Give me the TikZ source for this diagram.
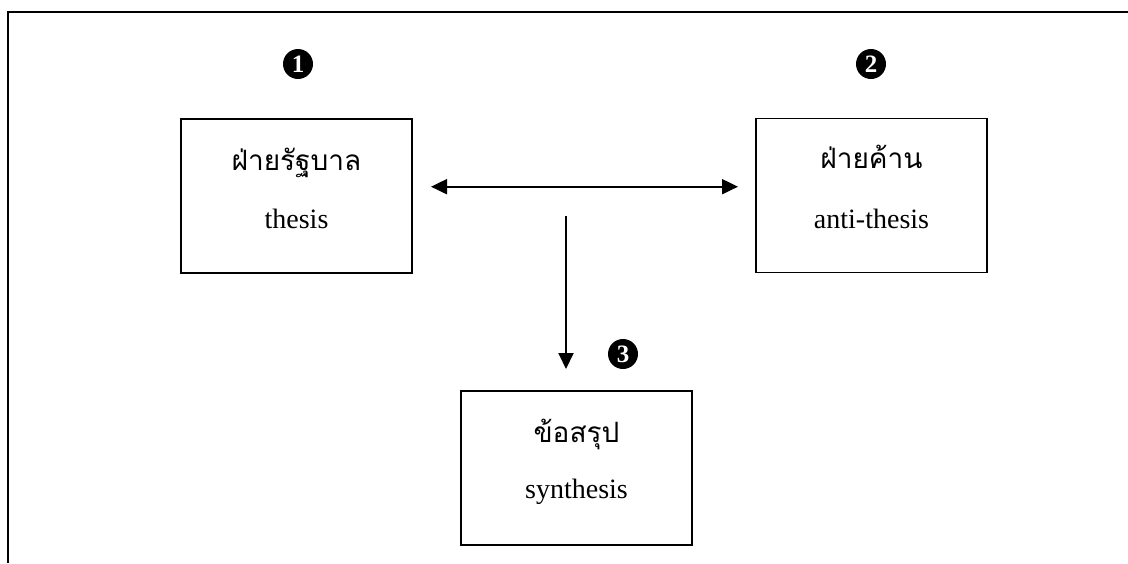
\documentclass[tikz,border=0pt]{standalone}
\usepackage{fontspec}
\setmainfont{Liberation Serif}
\newfontfamily\thaifont[Script=Thai]{Loma}
\usetikzlibrary{arrows.meta}
\begin{document}
\begin{tikzpicture}[x=1pt,y=-1pt,
  box/.style={draw=black,line width=1.8pt,minimum width=231pt,minimum height=154pt,inner sep=0pt},
  thai/.style={anchor=base,font=\thaifont\fontsize{28}{30}\selectfont},
  eng/.style={anchor=base,font=\fontsize{28}{32}\selectfont},
  num/.style={circle,fill=black,text=white,inner sep=0pt,minimum size=30pt,font=\fontsize{25}{26}\selectfont\bfseries},
  conn/.style={line width=2pt,-{Triangle[length=16pt,width=15pt]}},
  frame/.style={line width=1.8pt}]
\useasboundingbox (0,0) rectangle (1128,563);
% outer frame (top and left edges visible)
\coordinate (fl) at (8,563);
\coordinate (ftl) at (8,12);
\coordinate (ftr) at (1128,12);
\draw[frame] (fl) -- (ftl) -- (ftr);
% boxes
\node[box] (b1) at (296.5,196) {};
\node[box] (b2) at (871.5,195.5) {};
\node[box] (b3) at (576.5,468) {};
% labels
\node[thai] (t1) at (296.5,170) {ฝ่ายรัฐบาล};
\node[eng] (e1) at (296.5,228) {thesis};
\node[thai] (t2) at (871.5,168) {ฝ่ายค้าน};
\node[eng] (e2) at (871.5,228) {anti-thesis};
\node[thai] (t3) at (576.5,442) {ข้อสรุป};
\node[eng] (e3) at (576.5,498) {synthesis};
% numbers
\node[num] (n1) at (298,64) {1};
\node[num] (n2) at (871,64) {2};
\node[num] (n3) at (623,354) {3};
% connectors
\coordinate (hl) at (431,186.7);
\coordinate (hr) at (738,186.7);
\coordinate (vt) at (566,216);
\coordinate (vb) at (566,369);
\draw[conn,{Triangle[length=16pt,width=15pt]}-{Triangle[length=16pt,width=15pt]}] (hl) -- (hr);
\draw[conn] (vt) -- (vb);
\end{tikzpicture}
\end{document}
